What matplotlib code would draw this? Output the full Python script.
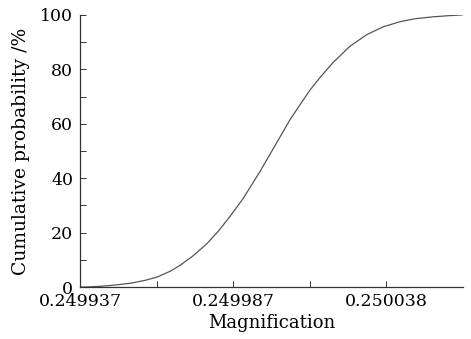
import matplotlib
matplotlib.use("Agg")
import matplotlib.pyplot as plt

# magnification values
magnification = [0.2499370, 0.2499403, 0.2499436, 0.2499479, 0.2499535, 0.2499585,
                 0.2499624, 0.2499667, 0.2499700, 0.2499743, 0.2499789, 0.2499826,
                 0.2499865, 0.2499908, 0.2499964, 0.2500024, 0.2500063, 0.2500096,
                 0.2500129, 0.2500162, 0.2500205, 0.2500261, 0.2500317, 0.2500370,
                 0.2500426, 0.2500476, 0.2500535, 0.2500585, 0.2500631]
# cumulative probability (%)
probability = [0.0, 0.1, 0.3, 0.7, 1.4, 2.5,
               3.7, 5.8, 8.0, 11.5, 16.0, 20.5,
               26.0, 32.5, 42.5, 54.0, 61.5, 67.0,
               72.4, 77.0, 82.5, 88.5, 92.8, 95.6,
               97.5, 98.6, 99.3, 99.7, 100.0]

xticks = [0.249937, 0.2499875, 0.250038]
xticklabels = ["0.249937", "0.249987", "0.250038"]
xminor = [0.24996225, 0.25001275]

plt.rcParams['font.family'] = ['DejaVu Serif']

fig = plt.figure(figsize=(4.71, 3.39), dpi=100)
ax = fig.add_axes([0.170, 0.153, 0.813, 0.803])

ax.plot(magnification, probability, color='#555555', linewidth=0.9)

ax.set_xlim(0.249937, 0.2500634)
ax.set_ylim(0, 100)
ax.set_xticks(xticks)
ax.set_xticklabels(xticklabels)
ax.set_xticks(xminor, minor=True)
ax.set_yticks([0, 20, 40, 60, 80, 100])
ax.set_yticks([10, 30, 50, 70, 90], minor=True)

for s in ['top', 'right']:
    ax.spines[s].set_visible(False)
for s in ['left', 'bottom']:
    ax.spines[s].set_color('#333333')
    ax.spines[s].set_linewidth(0.9)

ax.tick_params(which='both', direction='in', colors='#333333', labelcolor='black',
               labelsize=12.5, width=0.7, length=4)
ax.tick_params(axis='x', pad=4)
ax.tick_params(axis='y', pad=5)

ax.set_xlabel('Magnification', fontsize=13, labelpad=3)
ax.set_ylabel('Cumulative probability /%', fontsize=13.5, labelpad=7)

fig.savefig('out.png', dpi=100)
